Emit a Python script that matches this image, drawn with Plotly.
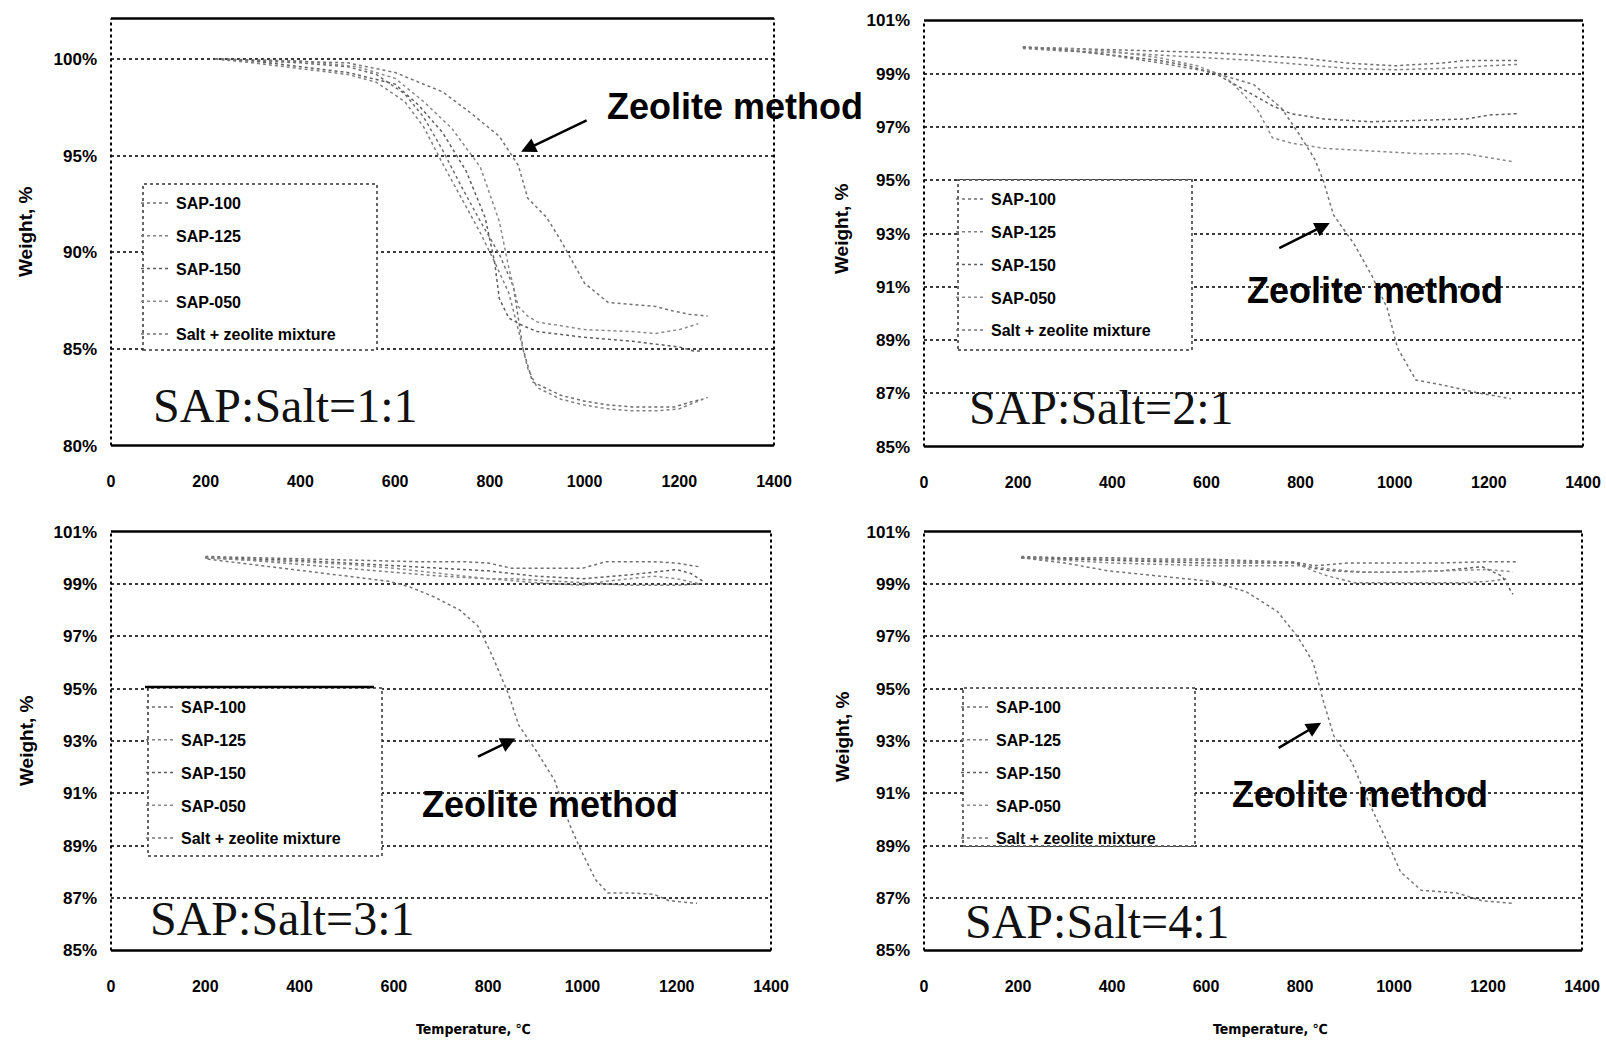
import plotly.graph_objects as go

W, H = 1606, 1044

SERIES = ["SAP-100", "SAP-125", "SAP-150", "SAP-050", "Salt + zeolite mixture"]
PANEL_LABELS = ["SAP:Salt=1:1", "SAP:Salt=2:1", "SAP:Salt=3:1", "SAP:Salt=4:1"]
X_TICKS = [0, 200, 400, 600, 800, 1000, 1200, 1400]
Y_TICKS_1 = [80, 85, 90, 95, 100]
Y_TICKS_2 = [85, 87, 89, 91, 93, 95, 97, 99, 101]

# ---- Panel 1 (SAP:Salt = 1:1)
T1_100 = [220, 300, 400, 500, 560, 620, 660, 700, 740, 780, 820, 850, 870, 890, 950, 1000, 1050, 1100, 1150, 1190, 1230, 1250]
W1_100 = [100, 99.9, 99.8, 99.6, 99.2, 98.2, 97.0, 95.3, 93.4, 91.6, 89.9, 88.2, 85.0, 83.3, 82.6, 82.3, 82.1, 82.0, 82.0, 82.0, 82.3, 82.4]
T1_125 = [220, 300, 400, 500, 560, 620, 660, 700, 740, 780, 810, 840, 860, 880, 900, 950, 1000, 1050, 1100, 1150, 1200, 1240, 1260]
W1_125 = [100, 99.8, 99.5, 99.2, 98.8, 97.8, 96.5, 94.6, 92.8, 91.0, 89.5, 87.9, 86.0, 84.0, 83.0, 82.4, 82.1, 81.9, 81.8, 81.8, 81.9, 82.3, 82.5]
T1_150 = [220, 300, 400, 500, 600, 650, 700, 750, 790, 810, 820, 840, 870, 900, 1000, 1100, 1200, 1230, 1250]
W1_150 = [100, 99.9, 99.6, 99.3, 98.7, 97.6, 96.2, 94.2, 91.8, 89.5, 87.6, 86.6, 86.2, 85.9, 85.6, 85.4, 85.1, 84.9, 84.9]
T1_050 = [220, 300, 400, 520, 600, 660, 720, 780, 820, 840, 860, 880, 900, 1000, 1100, 1150, 1200, 1240]
W1_050 = [100, 99.95, 99.9, 99.6, 99.0, 97.8, 96.4, 94.4, 91.6, 89.2, 87.2, 86.7, 86.4, 86.0, 85.9, 85.8, 86.0, 86.3]
T1_MIX = [220, 300, 400, 500, 600, 700, 760, 820, 860, 880, 920, 950, 1000, 1050, 1100, 1150, 1180, 1220, 1260]
W1_MIX = [100, 99.95, 99.9, 99.8, 99.3, 98.3, 97.2, 96.0, 94.5, 92.8, 91.8, 90.6, 88.4, 87.4, 87.3, 87.2, 87.0, 86.8, 86.7]

# ---- Panel 2 (SAP:Salt = 2:1)
T2_100 = [210, 300, 400, 500, 600, 700, 800, 850, 900, 950, 1000, 1050, 1100, 1150, 1200, 1260]
W2_100 = [100, 99.95, 99.9, 99.85, 99.8, 99.7, 99.6, 99.5, 99.4, 99.35, 99.3, 99.35, 99.4, 99.5, 99.5, 99.5]
T2_125 = [210, 300, 400, 500, 600, 700, 800, 900, 1000, 1100, 1200, 1260]
W2_125 = [99.95, 99.85, 99.8, 99.7, 99.6, 99.5, 99.35, 99.2, 99.15, 99.2, 99.3, 99.35]
T2_150 = [210, 300, 400, 500, 560, 620, 660, 700, 740, 780, 850, 950, 1050, 1150, 1200, 1260]
W2_150 = [100, 99.9, 99.7, 99.5, 99.3, 99.0, 98.6, 98.2, 97.8, 97.5, 97.3, 97.2, 97.25, 97.3, 97.45, 97.5]
T2_050 = [210, 300, 400, 500, 580, 640, 680, 710, 740, 780, 850, 950, 1050, 1150, 1200, 1250]
W2_050 = [100, 99.95, 99.85, 99.6, 99.3, 98.9, 98.2, 97.6, 96.6, 96.4, 96.2, 96.1, 96.0, 96.0, 95.85, 95.7]
T2_MIX = [210, 300, 394, 503, 613, 700, 760, 798, 830, 848, 870, 914, 952, 984, 1006, 1045, 1105, 1181, 1247]
W2_MIX = [100, 99.9, 99.7, 99.4, 99.05, 98.6, 97.7, 96.7, 95.8, 95.0, 93.7, 92.6, 91.4, 90.2, 88.7, 87.5, 87.3, 87.0, 86.8]

# ---- Panel 3 (SAP:Salt = 3:1)
T3_100 = [200, 300, 400, 500, 550, 650, 750, 800, 850, 1000, 1050, 1100, 1150, 1200, 1250]
W3_100 = [100.05, 100, 99.95, 99.9, 99.9, 99.85, 99.85, 99.8, 99.6, 99.6, 99.85, 99.85, 99.85, 99.8, 99.65]
T3_125 = [200, 300, 400, 500, 600, 700, 800, 850, 950, 1050, 1100, 1150, 1200, 1250]
W3_125 = [100, 99.9, 99.75, 99.6, 99.45, 99.3, 99.2, 99.2, 99.1, 99.0, 98.95, 98.95, 98.95, 99.0]
T3_150 = [200, 300, 400, 500, 600, 700, 800, 900, 1000, 1100, 1150, 1200, 1230, 1260]
W3_150 = [100, 99.95, 99.9, 99.8, 99.7, 99.6, 99.5, 99.3, 99.2, 99.35, 99.45, 99.55, 99.4, 99.05]
T3_050 = [200, 300, 400, 500, 600, 700, 800, 900, 1000, 1050, 1100, 1150, 1200, 1250]
W3_050 = [100, 99.9, 99.85, 99.75, 99.6, 99.4, 99.2, 99.05, 98.95, 99.1, 99.2, 99.3, 99.2, 99.0]
T3_MIX = [205, 300, 416, 500, 589, 632, 686, 740, 778, 805, 822, 843, 865, 903, 941, 973, 995, 1028, 1054, 1100, 1151, 1184, 1243]
W3_MIX = [99.95, 99.75, 99.5, 99.3, 99.1, 98.9, 98.5, 98.0, 97.4, 96.4, 95.7, 94.8, 93.6, 92.6, 91.5, 89.8, 88.9, 87.7, 87.2, 87.2, 87.15, 86.9, 86.8]

# ---- Panel 4 (SAP:Salt = 4:1)
T4_100 = [207, 300, 400, 500, 600, 700, 760, 800, 830, 870, 900, 1000, 1100, 1200, 1260]
W4_100 = [100.05, 100, 100, 99.95, 99.95, 99.9, 99.85, 99.8, 99.7, 99.75, 99.8, 99.8, 99.8, 99.85, 99.85]
T4_125 = [207, 300, 400, 500, 600, 700, 785, 828, 860, 883, 915, 1000, 1100, 1155, 1200, 1242]
W4_125 = [100, 99.95, 99.95, 99.9, 99.9, 99.85, 99.85, 99.5, 99.3, 99.2, 99.05, 99.05, 99.05, 99.05, 99.1, 99.2]
T4_150 = [207, 300, 400, 500, 600, 700, 790, 828, 870, 930, 1000, 1100, 1187, 1230, 1253]
W4_150 = [100, 99.95, 99.9, 99.85, 99.8, 99.8, 99.8, 99.6, 99.5, 99.45, 99.45, 99.5, 99.66, 99.3, 98.6]
T4_050 = [207, 300, 400, 500, 600, 700, 800, 850, 900, 950, 1000, 1100, 1200, 1253]
W4_050 = [100, 99.9, 99.8, 99.75, 99.7, 99.7, 99.7, 99.6, 99.5, 99.45, 99.45, 99.5, 99.55, 99.46]
T4_MIX = [207, 300, 392, 500, 610, 686, 752, 796, 828, 850, 872, 910, 948, 987, 1014, 1058, 1133, 1187, 1253]
W4_MIX = [100, 99.8, 99.5, 99.3, 99.1, 98.7, 97.95, 96.96, 96.0, 94.5, 93.2, 92.2, 90.6, 89.1, 88.0, 87.3, 87.2, 86.9, 86.8]

PANELS = [
    [(T1_100, W1_100), (T1_125, W1_125), (T1_150, W1_150), (T1_050, W1_050), (T1_MIX, W1_MIX)],
    [(T2_100, W2_100), (T2_125, W2_125), (T2_150, W2_150), (T2_050, W2_050), (T2_MIX, W2_MIX)],
    [(T3_100, W3_100), (T3_125, W3_125), (T3_150, W3_150), (T3_050, W3_050), (T3_MIX, W3_MIX)],
    [(T4_100, W4_100), (T4_125, W4_125), (T4_150, W4_150), (T4_050, W4_050), (T4_MIX, W4_MIX)],
]
Y_RANGES = [[80, 102.1], [85, 101], [85, 101], [85, 101]]
Y_TICKS = [Y_TICKS_1, Y_TICKS_2, Y_TICKS_2, Y_TICKS_2]

# ---- layout geometry (window pixels)
PLOT_BOX = [  # left, right, top, bottom
    (111, 774, 18.4, 445.6),
    (924, 1583, 20.5, 446.6),
    (111, 771, 531.6, 950.5),
    (924, 1582, 531.6, 950.5),
]
LEGEND_BOX = [  # left, right, top, bottom
    (143, 377, 184, 350),
    (958, 1192, 180, 350),
    (148, 382, 688, 856),
    (963, 1195, 688, 846),
]
ARROWS = [  # head (data x, data y), tail offset px
    (866, 95.2, 67, -32),
    (862, 93.4, -52, 26),
    (858, 93.1, -39, 19),
    (845, 93.7, -44, 26),
]
ZEO_TEXT = [(735, 107), (1375, 290), (550, 804), (1360, 794)]
PANEL_TEXT = [(151, 405), (967, 407), (148, 918), (963, 921)]
YTITLE = [(26, 231), (842, 229), (26, 740), (842, 737)]

LINE_COLORS = ["#6e6e6e", "#808080", "#5e5e5e", "#8a8a8a", "#747474"]
FONT = "Liberation Sans"
NARROW = "Liberation Sans Narrow, DejaVu Sans Condensed, Liberation Sans"

fig = go.Figure()
shapes, annotations = [], []

def px(x):
    return x / W

def py(y):
    return 1 - y / H

for i, series in enumerate(PANELS):
    n = "" if i == 0 else str(i + 1)
    xa, ya = "x" + n, "y" + n
    leg = "legend" + n
    for j, (t, w) in enumerate(series):
        fig.add_trace(go.Scatter(
            x=t, y=w, mode="lines", name=SERIES[j],
            line=dict(color=LINE_COLORS[j], width=1.5, dash="dot"),
            xaxis=xa, yaxis=ya, legend=leg, legendgroup=f"p{i}s{j}",
        ))
    l, r, tp, bt = PLOT_BOX[i]
    fig.layout["xaxis" + n] = dict(
        domain=[px(l), px(r)], anchor=ya, range=[0, 1400],
        tickvals=X_TICKS, ticktext=[str(v) for v in X_TICKS],
        showgrid=False, zeroline=False, showline=False, ticks="",
        tickfont=dict(family=FONT, size=16, color="black", weight="bold"),
        ticklabelstandoff=24, automargin=False, ticklabeloverflow="allow",
    )
    fig.layout["yaxis" + n] = dict(
        domain=[py(bt), py(tp)], anchor=xa, range=Y_RANGES[i],
        tickvals=Y_TICKS[i], ticktext=[f"{v}%" for v in Y_TICKS[i]],
        showgrid=True, gridcolor="#3a3a3a", griddash="dot", gridwidth=1.5,
        zeroline=False, showline=False, ticks="",
        tickfont=dict(family=FONT, size=17, color="black", weight="bold"),
        ticklabelstandoff=13, automargin=False, ticklabeloverflow="allow",
    )
    xd, yd = xa + " domain", ya + " domain"
    # plot border: solid top/bottom, dotted sides
    shapes += [
        dict(type="line", xref=xd, yref=yd, x0=0, x1=1, y0=1, y1=1, line=dict(color="black", width=2.5)),
        dict(type="line", xref=xd, yref=yd, x0=0, x1=1, y0=0, y1=0, line=dict(color="black", width=2.5)),
        dict(type="line", xref=xd, yref=yd, x0=0, x1=0, y0=0, y1=1, line=dict(color="black", width=2, dash="dot")),
        dict(type="line", xref=xd, yref=yd, x0=1, x1=1, y0=0, y1=1, line=dict(color="black", width=2, dash="dot")),
    ]
    # legend box
    ll, lr, lt, lb = LEGEND_BOX[i]
    shapes.append(dict(type="rect", xref="paper", yref="paper", x0=px(ll), x1=px(lr), y0=py(lb), y1=py(lt),
                       fillcolor="white", line=dict(color="#333", width=1.5, dash="dot"), layer="above"))
    if i == 2:
        shapes.append(dict(type="line", xref="paper", yref="paper", x0=px(ll - 3), x1=px(lr - 8), y0=py(lt - 1), y1=py(lt - 1),
                           line=dict(color="black", width=2.5), layer="above"))
    fig.layout[leg] = dict(
        x=px(ll - 7), y=py(lt + 2), xanchor="left", yanchor="top",
        bgcolor="rgba(0,0,0,0)", borderwidth=0, tracegroupgap=9, itemwidth=30,
        font=dict(family=FONT, size=16, color="black", weight="bold"),
    )
    # arrow + "Zeolite method"
    hx, hy, axo, ayo = ARROWS[i]
    annotations.append(dict(x=hx, y=hy, xref=xa, yref=ya, ax=axo, ay=ayo, text="", showarrow=True,
                            arrowhead=2, arrowsize=1.2, arrowwidth=2.5, arrowcolor="black"))
    zx, zy = ZEO_TEXT[i]
    annotations.append(dict(x=px(zx), y=py(zy), xref="paper", yref="paper", text="Zeolite method",
                            showarrow=False, xanchor="center", yanchor="middle",
                            font=dict(family=FONT, size=36, color="black", weight="bold")))
    tx, ty = PANEL_TEXT[i]
    annotations.append(dict(x=px(tx), y=py(ty), xref="paper", yref="paper", text=PANEL_LABELS[i],
                            showarrow=False, xanchor="left", yanchor="middle",
                            font=dict(family="Liberation Serif", size=48, color="#111")))
    wx, wy = YTITLE[i]
    annotations.append(dict(x=px(wx), y=py(wy), xref="paper", yref="paper", text="Weight, %",
                            showarrow=False, textangle=-90, xanchor="center", yanchor="middle",
                            font=dict(family=FONT, size=19, color="black", weight="bold")))

for cx in (473, 1270):
    annotations.append(dict(x=px(cx), y=py(1029), xref="paper", yref="paper", text="Temperature, ℃",
                            showarrow=False, xanchor="center", yanchor="middle",
                            font=dict(family=NARROW, size=14, color="black", weight="bold")))

fig.update_layout(
    width=W, height=H, autosize=False,
    margin=dict(l=0, r=0, t=0, b=0, pad=0, autoexpand=False),
    paper_bgcolor="white", plot_bgcolor="white",
    shapes=shapes, annotations=annotations,
    showlegend=True,
)

# remove the browser's default 8px page margin so the figure fills the window exactly
fig.write_html("out.html", config={"displayModeBar": False},
               post_script="document.body.style.margin = '0px';")
